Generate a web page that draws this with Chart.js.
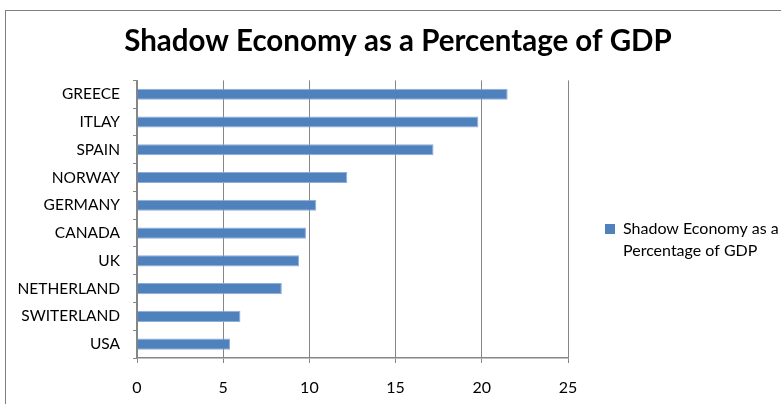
<!DOCTYPE html>
<html>
<head>
<meta charset="utf-8">
<script src="https://cdn.jsdelivr.net/npm/chart.js@4/dist/chart.umd.min.js"></script>
<style>
  html, body { margin: 0; padding: 0; background: #fff; overflow: hidden; }
  #wrap { position: relative; width: 781px; height: 404px; }
  #frame { position: absolute; left: 5px; top: 10px; width: 800px; height: 420px; border: 1px solid #7f7f7f; pointer-events: none; }
</style>
</head>
<body>
<div id="wrap">
  <canvas id="bar-chart" width="781" height="404"></canvas>
  <div id="frame"></div>
</div>
<script>
// data
var countries = ['GREECE', 'ITLAY', 'SPAIN', 'NORWAY', 'GERMANY', 'CANADA', 'UK', 'NETHERLAND', 'SWITERLAND', 'USA'];
var shadowShare = [21.5, 19.8, 17.2, 12.2, 10.4, 9.8, 9.4, 8.4, 6.0, 5.4];
var seriesName = 'Shadow Economy as a Percentage of GDP';
var legendLines = ['Shadow Economy as a', 'Percentage of GDP'];
var xTicks = [0, 5, 10, 15, 20, 25];

var barBlue = '#4F81BD';
var gridGrey = '#868686';
var font = 'Lato, "Open Sans", sans-serif';

// pushes the legend down so it lines up with the middle of the plot
var legendNudge = {
  id: 'legendNudge',
  afterLayout: function(chart) {
    chart.legend.top += 36;
    chart.legend.bottom += 36;
  }
};

var chart = new Chart(document.getElementById('bar-chart'), {
    type: 'bar',
    data: {
      labels: countries,
      datasets: [{
          label: seriesName,
          data: shadowShare,
          backgroundColor: barBlue,
          borderColor: '#8EADD8',
          borderWidth: 1,
          categoryPercentage: 0.4,
          barPercentage: 1
        }]
    },
    plugins: [legendNudge],
    options: {
      indexAxis: 'y',
      responsive: false,
      animation: false,
      layout: {
        padding: { left: 15, right: 0, top: 10, bottom: 0 }
      },
      plugins: {
        title: {
          display: true,
          text: seriesName,
          color: '#000',
          font: { family: font, size: 29.5, weight: 'bold', lineHeight: 1.2 },
          padding: { top: 14, bottom: 21 }
        },
        legend: {
          position: 'right',
          labels: {
            color: '#000',
            font: { family: font, size: 16, lineHeight: 1.375 },
            boxWidth: 10,
            boxHeight: 10,
            padding: 37,
            generateLabels: function(chart) {
              return [{
                text: legendLines,
                fillStyle: barBlue,
                strokeStyle: barBlue,
                lineWidth: 0,
                datasetIndex: 0
              }];
            }
          }
        },
        tooltip: { enabled: false }
      },
      scales: {
        x: {
          min: 0,
          max: 25,
          afterBuildTicks: function(scale) {
            scale.ticks = xTicks.map(function(v) { return { value: v }; });
          },
          afterFit: function(scale) { scale.height = 46; },
          grid: { color: gridGrey, lineWidth: 1, tickLength: 5 },
          border: { color: gridGrey, width: 1.5 },
          ticks: { color: '#000', padding: 15, font: { family: font, size: 16 } }
        },
        y: {
          afterFit: function(scale) { scale.width = 122; },
          grid: { drawOnChartArea: false, color: gridGrey, tickLength: 4 },
          border: { color: gridGrey, width: 1.5 },
          ticks: { color: '#000', padding: 13, font: { family: font, size: 15.5 } }
        }
      }
    }
  });

// legend sits in a fixed-width column to the right of the plot
var legendFit = chart.legend.fit;
chart.legend.fit = function() {
  legendFit.call(this);
  this.width = 213;
};
chart.update();
</script>
</body>
</html>
